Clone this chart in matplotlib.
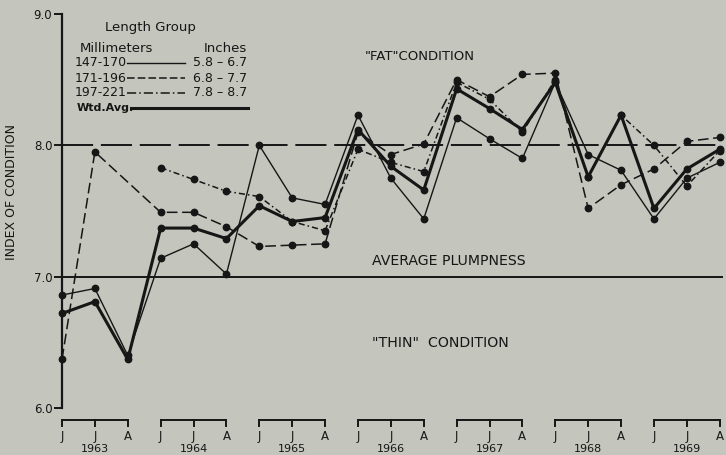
import numpy as np
import matplotlib
matplotlib.use("Agg")
import matplotlib.pyplot as plt
from matplotlib.lines import Line2D

# index of condition (J, J, A for each year)
years = ["1963", "1964", "1965", "1966", "1967", "1968", "1969"]
months = ["J", "J", "A"]
mm_147_170 = [6.86, 6.91, 6.40, 7.14, 7.25, 7.02, 8.00, 7.60, 7.55, 8.23, 7.75,
              7.44, 8.21, 8.05, 7.90, 8.48, 7.93, 7.81, 7.44, 7.75, 7.87]
mm_171_196 = [6.37, 7.95, np.nan, 7.49, 7.49, 7.38, 7.23, 7.24, 7.25, 8.10, 7.93,
              8.01, 8.50, 8.37, 8.54, 8.55, 7.52, 7.70, 7.82, 8.03, 8.06]
mm_197_221 = [np.nan, np.nan, np.nan, 7.83, 7.74, 7.65, 7.61, 7.42, 7.35, 7.97, 7.87,
              7.80, 8.48, 8.35, 8.10, 8.50, 7.76, 8.23, 8.00, 7.69, 7.96]
wtd_avg = [6.72, 6.81, 6.37, 7.37, 7.37, 7.29, 7.54, 7.42, 7.45, 8.12, 7.84,
           7.66, 8.43, 8.28, 8.12, 8.48, 7.76, 8.23, 7.52, 7.82, 7.97]

bg = "#c4c5bc"
ink = "#161616"
plt.rcParams["font.family"] = "DejaVu Sans"

W, H = 726, 455
fig = plt.figure(figsize=(W / 100, H / 100), dpi=100, facecolor=bg)
ax = fig.add_axes([62 / W, (H - 408) / H, 661 / W, 394 / H], facecolor=bg)

x = np.arange(len(wtd_avg))


def draw(vals, **kw):
    v = np.array(vals, dtype=float)
    ok = ~np.isnan(v)
    ax.plot(x[ok], v[ok], color=ink, marker="o", markersize=4.6,
            clip_on=False, zorder=3, **kw)


draw(mm_147_170, lw=1.0)
draw(mm_171_196, lw=1.1, dashes=(7, 3))
draw(mm_197_221, lw=1.1, dashes=(4, 2, 1, 2))
draw(wtd_avg, lw=2.2)

# reference levels
ax.axhline(8.0, color=ink, lw=1.4, dashes=(16, 4), zorder=1)
ax.axhline(7.0, color=ink, lw=1.4, zorder=1)

ax.set_xlim(0, 20.1)
ax.set_ylim(6.0, 9.0)
for s in ["top", "right", "bottom"]:
    ax.spines[s].set_visible(False)
ax.spines["left"].set_linewidth(1.6)
ax.spines["left"].set_color(ink)
ax.set_yticks([6.0, 7.0, 8.0, 9.0], ["6.0", "7.0", "8.0", "9.0"])
ax.tick_params(axis="y", length=6, width=1.4, colors=ink, labelsize=8.5, pad=1)
ax.set_xticks([])

# year brackets under the axis
yb, yt = 5.909, 5.86
for g, yr in enumerate(years):
    x0, x1 = 3 * g, 3 * g + 2
    ax.plot([x0, x1], [yb, yb], color=ink, lw=1.4, clip_on=False)
    for k in range(3):
        ax.plot([x0 + k, x0 + k], [yb, yt], color=ink, lw=1.4, clip_on=False)
        ax.text(x0 + k, 5.78, months[k], ha="center", va="center",
                fontsize=8.5, color=ink, clip_on=False)
    ax.text(x0 + 1, 5.685, yr, ha="center", va="center", fontsize=8,
            color=ink, clip_on=False)

fig.text(12 / W, 1 - 192 / H, "INDEX OF CONDITION", rotation=90, ha="center",
         va="center", fontsize=9, color=ink)

# region labels
fig.text(365 / W, 1 - 57 / H, '"FAT"CONDITION', fontsize=9.5, color=ink, va="center")
fig.text(372 / W, 1 - 261 / H, "AVERAGE PLUMPNESS", fontsize=10.2, color=ink, va="center")
fig.text(372 / W, 1 - 343 / H, '"THIN"  CONDITION', fontsize=10.2, color=ink, va="center")

# legend block
fig.text(150 / W, 1 - 27 / H, "Length Group", fontsize=9.5, color=ink,
         ha="center", va="center")
fig.text(80 / W, 1 - 48 / H, "Millimeters", fontsize=9.5, color=ink, va="center")
fig.text(247 / W, 1 - 48 / H, "Inches", fontsize=9.5, color=ink, va="center", ha="right")
rows = [("147-170", "5.8 – 6.7", {"lw": 1.0}),
        ("171-196", "6.8 – 7.7", {"lw": 1.1, "dashes": (5, 2)}),
        ("197-221", "7.8 – 8.7", {"lw": 1.1, "dashes": (6, 2, 1, 2)})]
for i, (mm, inch, kw) in enumerate(rows):
    yy = 1 - (63 + 15 * i) / H
    fig.text(75 / W, yy, mm, fontsize=9, color=ink, va="center")
    fig.text(247 / W, yy, inch, fontsize=9, color=ink, va="center", ha="right")
    fig.add_artist(Line2D([127 / W, 185 / W], [yy, yy], color=ink, **kw))
yy = 1 - 108 / H
fig.text(77 / W, yy, "Wtd.Avg.", fontsize=8, color=ink, va="center", fontweight="bold")
fig.add_artist(Line2D([131 / W, 248 / W], [yy, yy], color=ink, lw=2.2))

fig.savefig("out.png", dpi=100, facecolor=bg)
